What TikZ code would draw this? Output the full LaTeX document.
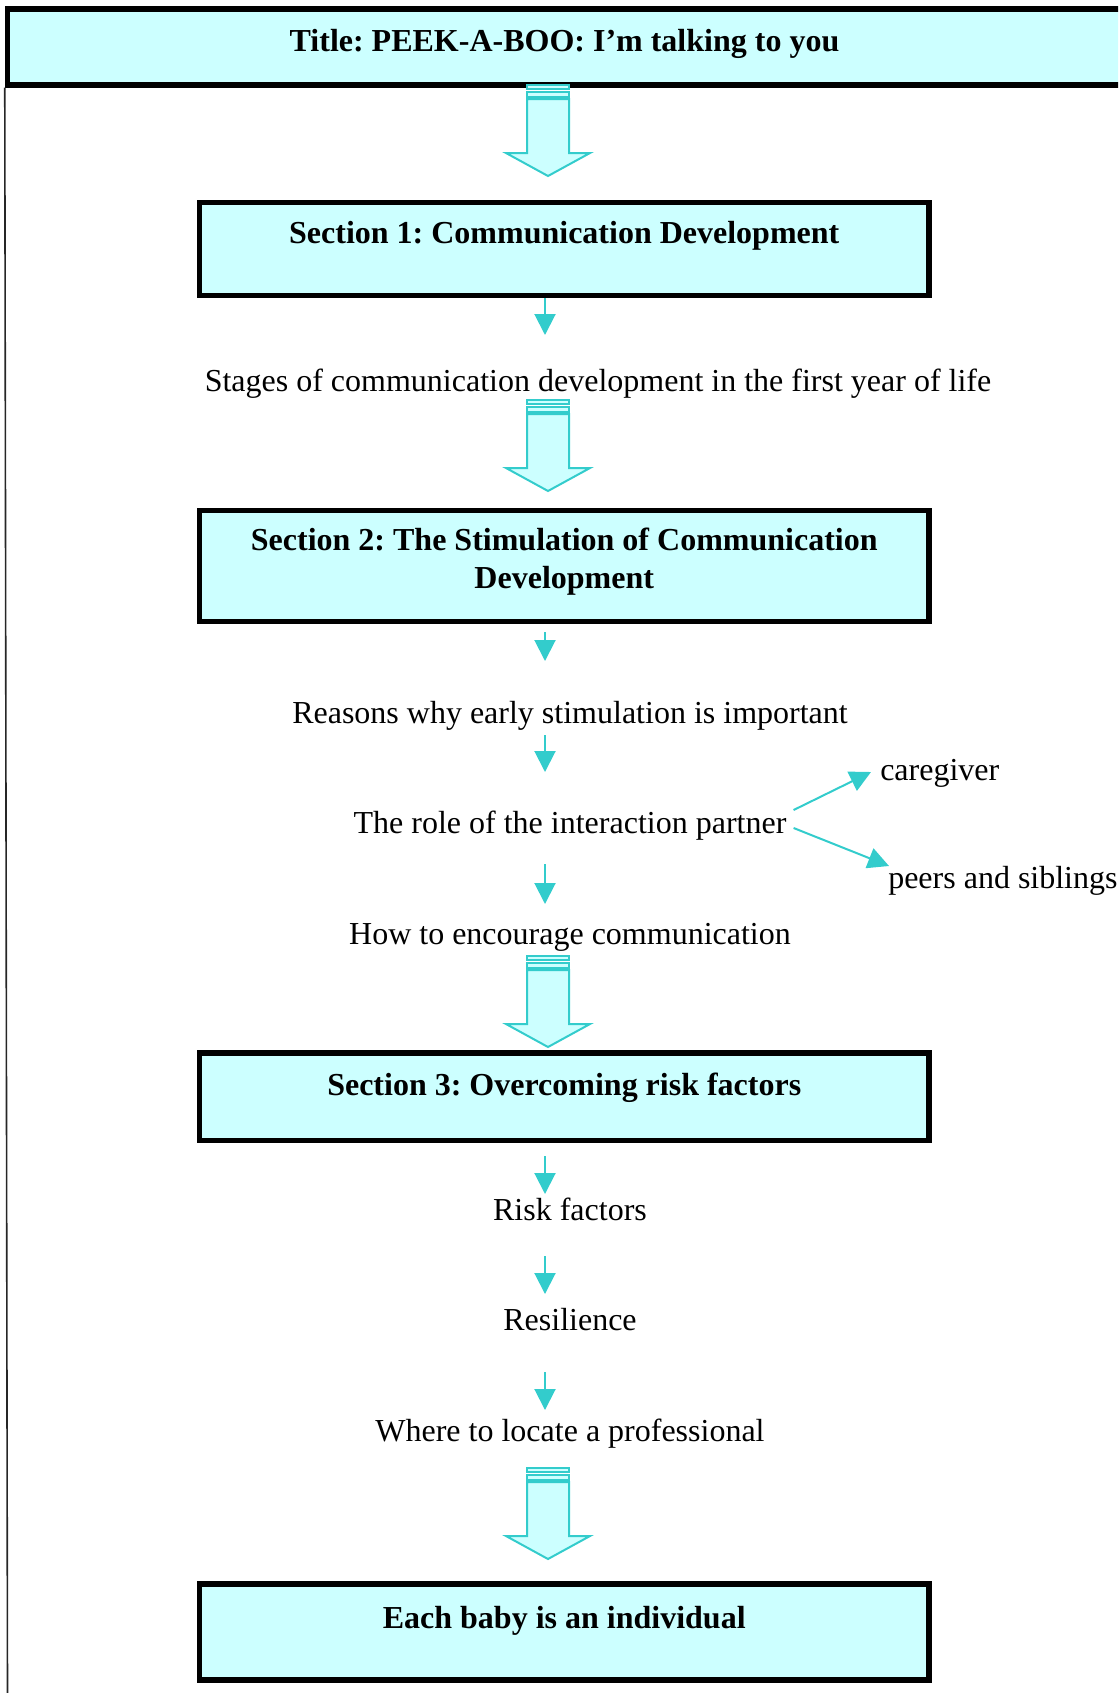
\documentclass[tikz,border=0pt]{standalone}
\usepackage{fontspec}
\setmainfont{Liberation Serif}
\usetikzlibrary{arrows.meta}
\definecolor{boxfill}{HTML}{CCFFFF}
\definecolor{tealc}{HTML}{33CCCC}
\frenchspacing
\begin{document}
\begin{tikzpicture}[x=0.75pt,y=-0.75pt,
  box/.style={draw=black, line width=4.1pt, fill=boxfill, inner sep=0pt,
    minimum width=547.1pt, font=\fontsize{24}{28.5}\selectfont\bfseries\frenchspacing, text height=16pt},
  txt/.style={inner sep=0pt, font=\fontsize{24}{28.5}\selectfont\frenchspacing, text height=16pt, text depth=0pt},
  sarrow/.style={draw=tealc, line width=1.5pt, -{Triangle[width=15.75pt,length=15.75pt]}},
  hollowpart/.style={draw=tealc, line width=1.5pt, fill=boxfill},
  hollowarrow/.pic={
    \draw[hollowpart] (-21,0) rectangle (21,3.5);
    \draw[hollowpart] (-21,7) rectangle (21,12);
    \draw[hollowpart] (-21,14) -- (-21,68) -- (-42,68) -- (0,91) -- (42,68) -- (21,68) -- (21,14) -- cycle;
  }
]
\useasboundingbox (0,0) rectangle (1118,1693);
\clip (0,0) rectangle (1118,1693);

% boxes
\node[box, minimum width=835.5pt, minimum height=57pt, text depth=9pt] (title) at (564.5,47) {Title: PEEK-A-BOO: I’m talking to you};
\node[box, minimum height=69.75pt, text depth=24pt] (sec1) at (564.25,249) {Section 1: Communication Development};
\node[box, minimum height=83.25pt, text depth=39pt] (sec2) at (564.25,566) {\begin{tabular}[t]{@{}c@{}}Section 2: The Stimulation of Communication\\Development\end{tabular}};
\node[box, minimum height=65.6pt, text depth=18pt] (sec3) at (564.25,1096.5) {Section 3: Overcoming risk factors};
\node[box, minimum height=72pt, text depth=21pt] (each) at (564.25,1632) {Each baby is an individual};

% left rule
\coordinate (lb) at (7.5,1693);
\draw[line width=1.2pt, black!85] (title.south west) -- (lb);

% texts
\node[txt] (stages) at (598,381) {Stages of communication development in the first year of life};
\node[txt] (reasons) at (570,713) {Reasons why early stimulation is important};
\node[txt] (role) at (570,823) {The role of the interaction partner};
\node[txt, anchor=west] (care) at (880,770) {caregiver};
\node[txt, anchor=west] (peers) at (888,878) {peers and siblings};
\node[txt] (how) at (570,934) {How to encourage communication};
\node[txt] (risk) at (570,1210) {Risk factors};
\node[txt] (resil) at (570,1320) {Resilience};
\node[txt] (where) at (570,1431) {Where to locate a professional};

% hollow arrows
\pic at (548,85) {hollowarrow};
\pic at (548,400) {hollowarrow};
\pic at (548,956) {hollowarrow};
\pic at (548,1468) {hollowarrow};

% small arrows
\coordinate (ax) at (545,0);
\coordinate (a1e) at (545,335);
\coordinate (b1s) at (545,632); \coordinate (b1e) at (545,661);
\coordinate (c1s) at (545,735); \coordinate (c1e) at (545,772);
\coordinate (d1s) at (545,864); \coordinate (d1e) at (545,904);
\coordinate (e1s) at (545,1156); \coordinate (e1e) at (545,1194);
\coordinate (f1s) at (545,1256); \coordinate (f1e) at (545,1294);
\coordinate (g1s) at (545,1372); \coordinate (g1e) at (545,1410);
\draw[sarrow] (sec1.south -| ax) -- (a1e);
\draw[sarrow] (b1s) -- (b1e);
\draw[sarrow] (c1s) -- (c1e);
\draw[sarrow] (d1s) -- (d1e);
\draw[sarrow] (e1s) -- (e1e);
\draw[sarrow] (f1s) -- (f1e);
\draw[sarrow] (g1s) -- (g1e);

% branch arrows
\draw[sarrow] ([shift={(7,-13)}]role.east) -- ([shift={(-9,2)}]care.west);
\draw[sarrow] ([shift={(7,5)}]role.east) -- ([shift={(1,-12)}]peers.west);
\end{tikzpicture}
\end{document}
